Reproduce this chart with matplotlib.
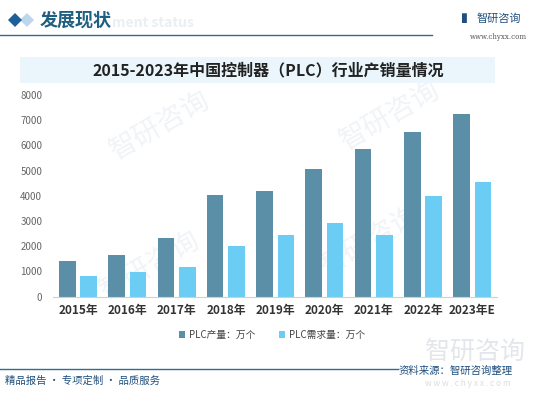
import matplotlib.pyplot as plt
from matplotlib.patches import Rectangle, Polygon
import numpy as np

plt.rcParams['font.family'] = ['Noto Sans CJK SC', 'DejaVu Sans']

# data
years = ['2015年', '2016年', '2017年', '2018年', '2019年', '2020年', '2021年', '2022年', '2023年E']
production = [1410, 1640, 2340, 4020, 4210, 5050, 5860, 6540, 7250]
demand = [820, 990, 1190, 2000, 2450, 2930, 2450, 4000, 4540]
label_prod = 'PLC产量：万个'
label_demand = 'PLC需求量：万个'
title = '2015-2023年中国控制器（PLC）行业产销量情况'

W, H = 537, 400
fig = plt.figure(figsize=(W / 100, H / 100), dpi=100)
fig.patch.set_facecolor('white')

def fx(px):
    return px / W

def fy(py):
    return 1 - py / H

# faint watermarks behind everything
for (x, y) in [(160, 125), (390, 115), (150, 265), (370, 240)]:
    fig.text(fx(x), fy(y), '智研咨询', fontsize=20, color='#f1f4f7', rotation=30,
             ha='center', va='center', zorder=-1)

# header
fig.patches.append(Polygon([[fx(8), fy(20)], [fx(15), fy(13)], [fx(22), fy(20)], [fx(15), fy(27)]],
                           closed=True, transform=fig.transFigure, facecolor='#1f5f99', edgecolor='none'))
fig.patches.append(Polygon([[fx(20), fy(20)], [fx(27), fy(13)], [fx(34), fy(20)], [fx(27), fy(27)]],
                           closed=True, transform=fig.transFigure, facecolor='#bcd6ec', edgecolor='none', zorder=0))
fig.text(fx(40), fy(20), '发展现状', fontsize=13, fontweight='bold', color='#1f5f7f', va='center')
fig.text(fx(112), fy(23), 'ment status', fontsize=10, fontweight='bold', color='#e9eff3', va='center', zorder=-1)
fig.add_artist(plt.Line2D([0, fx(432)], [fy(35), fy(35)], color='#2d6f8f', lw=1))
fig.text(fx(477), fy(19), '智研咨询', fontsize=8, color='#1f4f7f', va='center', ha='left')
fig.text(fx(462), fy(19), '▌', fontsize=7, color='#1f4f7f', va='center', ha='left')
fig.text(fx(470), fy(37), 'www.chyxx.com', fontsize=5, color='#555555', va='center', ha='left',
         family='DejaVu Serif')

# title band
fig.patches.append(Rectangle((fx(20), fy(83)), fx(475), 26 / H, transform=fig.transFigure,
                             facecolor='#eaf6fc', edgecolor='none'))
fig.text(fx(268), fy(70), title, fontsize=11.5, fontweight='bold', color='#222222',
         ha='center', va='center')

# chart
ax = fig.add_axes([fx(53.3), fy(296.7), fx(443.7), (296.7 - 95) / H])
ax.set_zorder(1)
ax.set_facecolor('none')
x = np.arange(len(years))
w = 0.335
ax.bar(x - 0.217, production, w, color='#5b8fa8', label=label_prod, zorder=2)
ax.bar(x + 0.217, demand, w, color='#6bcdf3', label=label_demand, zorder=2)
ax.set_xlim(-0.5, len(years) - 0.5)
ax.set_ylim(0, 8000)
ax.set_yticks(range(0, 8001, 1000))
ax.set_xticks(x)
ax.set_xticklabels(years, fontsize=8.5, fontweight='bold', color='#333333')
ax.tick_params(axis='y', labelsize=7, colors='#666666', length=0, pad=8)
ax.tick_params(axis='x', length=0, pad=5)
for s in ['top', 'right', 'left']:
    ax.spines[s].set_visible(False)
ax.spines['bottom'].set_color('#d0d0d0')

leg = fig.legend(loc='center', bbox_to_anchor=(fx(272), fy(335)), ncol=2, frameon=False,
                 fontsize=7, handlelength=0.6, handleheight=0.6, columnspacing=2.5,
                 handletextpad=0.4)
for t in leg.get_texts():
    t.set_color('#444444')

# footer
fig.text(fx(425), fy(352), '智研咨询', fontsize=18, color='#e3e6ea', va='center', ha='left', zorder=-1)
fig.add_artist(plt.Line2D([0, fx(398)], [fy(369), fy(369)], color='#2d6f8f', lw=1))
fig.text(fx(513), fy(371), '资料来源：智研咨询整理', fontsize=7.5, color='#1f4f7f', va='center', ha='right')
fig.text(fx(425), fy(383), 'w w w . c h y x x . c o m', fontsize=6, color='#dddddd', va='center', ha='left')
fig.text(fx(5), fy(381), '精品报告 · 专项定制 · 品质服务', fontsize=7.5, color='#1f4f7f', va='center', ha='left')

fig.savefig('out.png', dpi=100)
